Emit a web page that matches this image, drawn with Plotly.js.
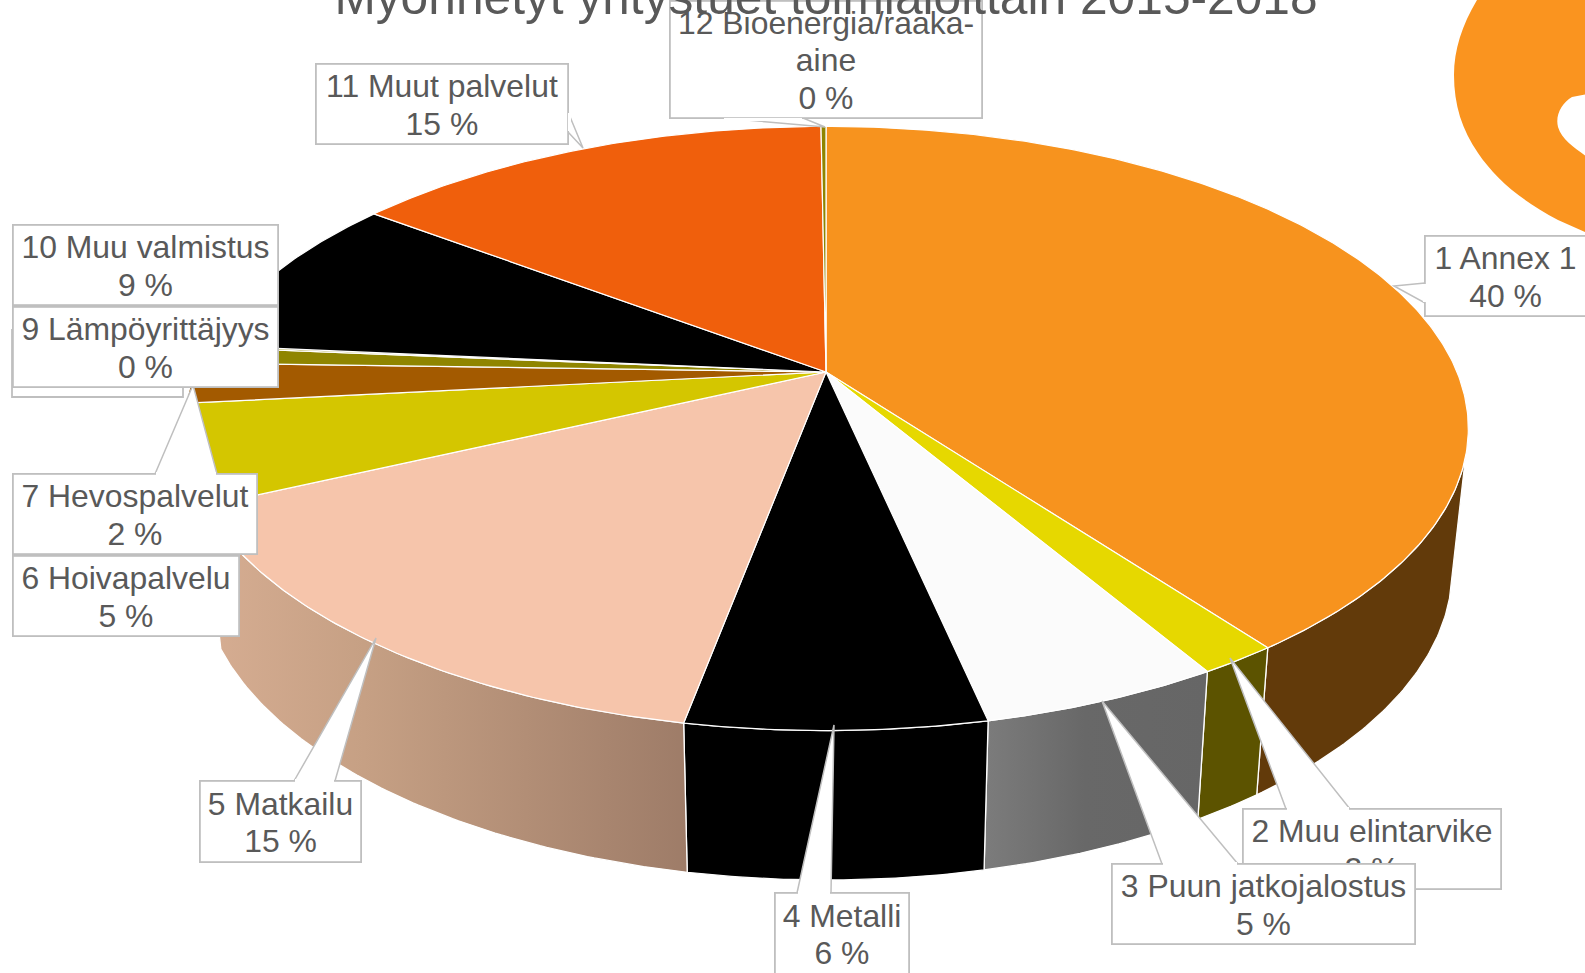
<!DOCTYPE html>
<html><head><meta charset="utf-8">
<script src="https://cdn.plot.ly/plotly-3.0.1.min.js"></script>
<style>html,body{margin:0;padding:0;background:#fff;overflow:hidden}</style>
</head><body><div id="chart" style="width:1585px;height:973px"></div>
<script>
// ---- data ----
const categories = ["1 Annex 1","2 Muu elintarvike","3 Puun jatkojalostus","4 Metalli","5 Matkailu","6 Hoivapalvelu","7 Hevospalvelut","8","9 Lämpöyrittäjyys","10 Muu valmistus","11 Muut palvelut","12 Bioenergia/raaka-aine"];
const shares = [39.9,1.68,5.1,6.32,15.1,5.3,2.17,0.88,0.1,8.85,14.55,0.15];
const percentLabels = ["40 %","2 %","5 %","6 %","15 %","5 %","2 %","","0 %","9 %","15 %","0 %"];
const topColors = ["#F7931E","#E6D800","#FBFBFB","#000000","#F6C5AB","#D4C600","#A35A00","#8F8500","#8F8500","#000000","#F05F0C","#8F8500"];
const wallColors = ["#623A0A","#5C5300",null,"#000000",null,"#6E6800","#6B3B00","#5E5700","#5E5700","#000000","#A03F08","#5E5700"];
const chartTitle = "Myönnetyt yritystuet toimialoittain 2015-2018";

// ---- projection of the tilted pie ----
const P = {cx:826, cy:372, a:631, b:291.5, k:0.187, botS:0.975, botY:511, botB:300};
const top3d = t => { const u=Math.sin(t), v=-Math.cos(t), w=1-P.k*v; return [P.cx+P.a*u/w, P.cy+P.b*v/w]; };
const bot3d = t => { const u=Math.sin(t), v=-Math.cos(t), w=1-P.k*v; return [P.cx+P.a*P.botS*u/w, P.botY+P.botB*v/w]; };
const arc = (f,t0,t1) => { const n=Math.max(2,Math.ceil(Math.abs(t1-t0)/0.01)), o=[]; for(let i=0;i<=n;i++) o.push(f(t0+(t1-t0)*i/n)); return o; };

const total = shares.reduce((s,v)=>s+v,0);
let c = 0;
const edges = shares.map(v=>{const a=c/total*2*Math.PI; c+=v; return [a,c/total*2*Math.PI];});
const gradients = {
  2:{type:'horizontal',colorscale:[[0,'#7C7C7C'],[0.45,'#686868'],[1,'#666666']]},
  4:{type:'horizontal',colorscale:[[0,'#D6AD92'],[0.33,'#C6A084'],[1,'#9E7C68']]}
};
const traces = [];
const wallFrom = 106*Math.PI/180, wallTo = edges[4][1];
edges.forEach((e,i)=>{
  const t0=Math.max(e[0],wallFrom), t1=Math.min(e[1],wallTo);
  if(t1<=t0) return;
  const pts = arc(top3d,t0,t1).concat(arc(bot3d,t1,t0));
  pts.push(pts[0]);
  const tr = {type:'scatter',mode:'lines',x:pts.map(p=>p[0]),y:pts.map(p=>p[1]),fill:'toself',
    line:{color:'#FFFFFF',width:1.3},hoverinfo:'skip',showlegend:false,name:categories[i]+' side'};
  if(gradients[i]) tr.fillgradient=gradients[i]; else tr.fillcolor=wallColors[i];
  traces.push(tr);
});
edges.forEach((e,i)=>{
  const pts = [[P.cx,P.cy]].concat(arc(top3d,e[0],e[1]));
  pts.push([P.cx,P.cy]);
  traces.push({type:'scatter',mode:'lines',x:pts.map(p=>p[0]),y:pts.map(p=>p[1]),fill:'toself',fillcolor:topColors[i],
    line:{color:'#FFFFFF',width:1.2},hoverinfo:'text',text:categories[i]+' '+percentLabels[i],showlegend:false,name:categories[i]});
});

// ---- label boxes; gap = opening in the border where the callout pointer joins ----
const boxes = [
  {i:11,text:"12 Bioenergia/raaka-<br>aine<br>0 %",l:669,t:0,r:983,b:119,gap:[724,802,119,119]},
  {i:10,l:315,t:63,r:569,b:145,gap:[569,569,113,131]},
  {i:9,l:12,t:224,r:279,b:306},
  {i:8,l:12,t:306,r:279,b:388},
  {i:5,l:12,t:555,r:240,b:637},
  {i:6,l:12,t:473,r:258,b:555,gap:[156,216,473,473]},
  {i:4,l:199,t:780,r:362,b:863,gap:[295,334,780,780]},
  {i:3,l:774,t:892,r:910,b:975,gap:[798,830,892,892]},
  {i:1,l:1242,t:808,r:1502,b:890,gap:[1287,1349,808,808]},
  {i:2,l:1111,t:863,r:1416,b:945,gap:[1163,1237,863,863]},
  {i:0,l:1424,t:235,r:1587,b:317,gap:[1424,1424,284,302]}
];
const lineColor='#BFBFBF';
const annotations = [];
boxes.forEach(b=>{
  annotations.push({
    xref:'x',yref:'y',x:(b.l+b.r)/2,y:(b.t+b.b)/2,xanchor:'center',yanchor:'middle',showarrow:false,
    width:b.r-b.l-3.6,height:b.b-b.t-3.6,borderpad:0,borderwidth:1.8,bordercolor:lineColor,bgcolor:'#FFFFFF',
    align:'center',valign:'middle',font:{family:'"Liberation Sans",Arial,sans-serif',size:31.9,color:'#595959'},
    text:b.text||(categories[b.i]+'<br>'+percentLabels[b.i])
  });
  if(b.gap){
    const [x0,x1,y0,y1]=b.gap;
    annotations.push({xref:'x',yref:'y',x:(x0+x1)/2,y:(y0+y1)/2,xanchor:'center',yanchor:'middle',showarrow:false,
      width:Math.max(3,x1-x0),height:Math.max(3,y1-y0),borderpad:0,borderwidth:0,bgcolor:'#FFFFFF',
      font:{size:1,color:'#FFFFFF'},text:' '});
  }
});

// ---- callout pointers and logo ----
const pointer = (tx,ty,x1,y1,x2,y2) => ({type:'path',path:`M${x1},${y1}L${tx},${ty}L${x2},${y2}Z`,xref:'x',yref:'y',
  fillcolor:'#FFFFFF',line:{color:lineColor,width:1.5},layer:'above'});
const shapes = [
  {type:'path',xref:'x',yref:'y',fillcolor:'#FA941F',line:{width:0},layer:'above',
   path:'M1477,0 C1462,25 1454,50 1454,75 C1454,105 1462,130 1478,153 C1495,178 1520,200 1558,220 L1587,233 L1587,157 C1575,148 1562,140 1558,127 C1555,115 1562,103 1572,97 L1587,94 L1587,0 Z'},
  pointer(1394,286,1425,283,1425,303),
  pointer(1230,658,1286,809,1350,809),
  pointer(1102,701,1162,864,1238,864),
  pointer(834,725,797,893,831,893),
  pointer(376,638,294,781,335,781),
  pointer(193,385,155,474,217,474),
  pointer(583,148,568,112,568,132),
  pointer(825,127,723,118,803,118),
  {type:'rect',xref:'x',yref:'y',x0:12,x1:183,y0:330,y1:397,fillcolor:'#FFFFFF',line:{color:lineColor,width:1.8},layer:'above'}
];

const layout = {
  width:1585,height:973,margin:{l:0,r:0,t:0,b:0,pad:0},autosize:false,
  paper_bgcolor:'#FFFFFF',plot_bgcolor:'#FFFFFF',showlegend:false,
  title:{text:chartTitle,x:826/1585,xanchor:'center',y:1-14/973,yanchor:'bottom',yref:'container',automargin:false,
         font:{family:'"Liberation Sans",Arial,sans-serif',size:49.7,color:'#595959'}},
  xaxis:{range:[0,1585],visible:false,fixedrange:true},
  yaxis:{range:[973,0],visible:false,fixedrange:true},
  shapes,annotations
};
Plotly.newPlot('chart',traces,layout,{staticPlot:true,displayModeBar:false}).then(gd=>{
  // tighten multi-line labels to the reference's line spacing
  const want=1.17, base=1.3;
  gd.querySelectorAll('.annotation-text').forEach(t=>{
    const ls=t.querySelectorAll('tspan.line'), n=ls.length;
    ls.forEach((s,i)=>s.setAttribute('dy',(i*want+(n-1)/2*(base-want)+0.03)+'em'));
  });
  // the title sits on top of the label boxes in the reference
  const title=gd.querySelector('.g-gtitle');
  if(title) title.parentNode.appendChild(title);
});
</script></body></html>
